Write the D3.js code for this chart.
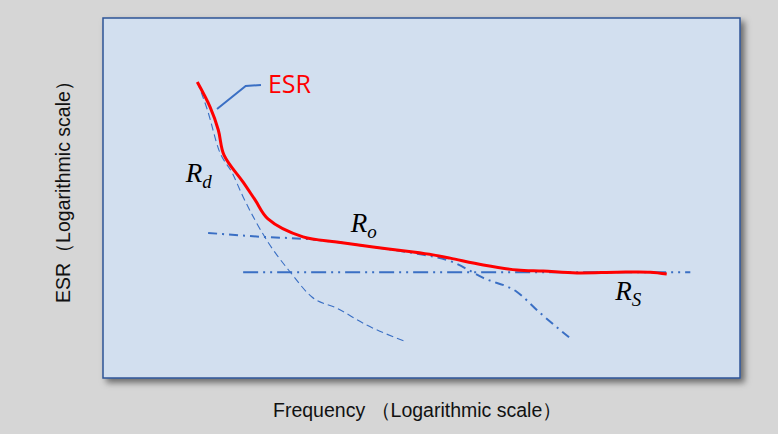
<!DOCTYPE html>
<html>
<head>
<meta charset="utf-8">
<script src="https://cdn.jsdelivr.net/npm/d3@7"></script>
<style>
  html, body { margin: 0; padding: 0; background: #d6d6d6; }
  svg { display: block; }
</style>
</head>
<body>
<svg id="chart"></svg>
<script>
// all values in abstract log units (0..100 on each axis)
var esrX = [14.8, 16.8, 18.1, 19.0, 22.0, 23.9, 25.9, 31.4, 36.7, 42.4, 48.7, 51.8, 54.5, 59.7, 65.0, 69.1, 74.4, 80.7, 85.9, 88.5];
var esrY = [82.2, 75.3, 68.9, 61.9, 54.4, 49.4, 44.2, 39.2, 37.8, 36.4, 35.0, 34.2, 33.3, 31.4, 30.0, 29.7, 29.2, 29.4, 29.4, 28.9];

var rdX = [14.8, 16.4, 18.2, 20.3, 22.0, 25.7, 29.4, 32.8, 36.7, 41.4, 47.7];
var rdY = [82.2, 74.4, 63.3, 56.9, 50.3, 38.3, 29.4, 22.5, 19.4, 14.7, 10.0];

var roX = [16.5, 25.1, 32.0, 43.5, 48.7, 54.9, 59.7, 65.0, 68.6, 73.3];
var roY = [40.3, 39.2, 38.6, 36.1, 34.7, 32.2, 27.8, 23.9, 18.1, 11.1];

var rsX = [22.0, 92.2];
var rsY = [29.4, 29.4];

var xLabel = "Frequency \uFF08Logarithmic scale\uFF09";
var yLabel = "ESR\uFF08Logarithmic scale\uFF09";

var width = 778;
var height = 434;
var box = { left: 103, top: 18, right: 740, bottom: 378 };

var svg = d3.select("svg#chart")
    .attr("width", width)
    .attr("height", height);

var x = d3.scaleLinear().domain([0, 100]).range([box.left, box.right]);
var y = d3.scaleLinear().domain([0, 100]).range([box.bottom, box.top]);

var defs = svg.append("defs");
var f = defs.append("filter").attr("id", "shadow")
    .attr("x", "-5%").attr("y", "-5%").attr("width", "115%").attr("height", "115%");
f.append("feDropShadow")
    .attr("dx", 4).attr("dy", 4).attr("stdDeviation", 3)
    .attr("flood-color", "#000").attr("flood-opacity", 0.5);

// plot area
svg.append("rect")
    .attr("x", box.left)
    .attr("y", box.top)
    .attr("width", box.right - box.left)
    .attr("height", box.bottom - box.top)
    .attr("fill", "#d2dfef")
    .attr("stroke", "#2f5597")
    .attr("stroke-width", 1.5)
    .attr("filter", "url(#shadow)");

var zip = function(xs, ys) {
    return xs.map(function(v, i) { return [v, ys[i]]; });
};

var line = d3.line()
    .x(function(d) { return x(d[0]); })
    .y(function(d) { return y(d[1]); })
    .curve(d3.curveMonotoneX);

var straight = d3.line()
    .x(function(d) { return x(d[0]); })
    .y(function(d) { return y(d[1]); });

var blue = "#3a6fc4";

// Rs
svg.append("path")
    .attr("d", line(zip(rsX, rsY)))
    .attr("fill", "none")
    .attr("stroke", blue)
    .attr("stroke-width", 2)
    .attr("stroke-dasharray", "15,5,2,5,2,5");

// Ro
svg.append("path")
    .attr("d", line(zip(roX, roY)))
    .attr("fill", "none")
    .attr("stroke", blue)
    .attr("stroke-width", 2)
    .attr("stroke-dasharray", "9,5,2,5");

// Rd
svg.append("path")
    .attr("d", line(zip(rdX, rdY)))
    .attr("fill", "none")
    .attr("stroke", blue)
    .attr("stroke-width", 1.1)
    .attr("stroke-dasharray", "7,4");

// ESR
svg.append("path")
    .attr("d", straight.curve(d3.curveCatmullRom.alpha(0.5))(zip(esrX, esrY)))
    .attr("fill", "none")
    .attr("stroke", "#ff0000")
    .attr("stroke-width", 3)
    .attr("stroke-linejoin", "round");

// leader line to ESR label
svg.append("path")
    .attr("d", d3.line()
        .x(function(d) { return x(d[0]); })
        .y(function(d) { return y(d[1]); })([[17.9, 74.7], [22.4, 81.1], [24.8, 81.4]]))
    .attr("fill", "none")
    .attr("stroke", blue)
    .attr("stroke-width", 2);

svg.append("text")
    .text("ESR")
    .attr("x", x(25.9))
    .attr("y", y(79.2))
    .attr("font-family", "Open Sans")
    .attr("font-weight", 500)
    .attr("font-size", 25)
    .attr("fill", "#ff0000");

var rLabel = function(px, py, sub) {
    var t = svg.append("text")
        .attr("x", x(px))
        .attr("y", y(py))
        .attr("font-family", "Liberation Serif")
        .attr("font-style", "italic")
        .attr("font-size", 27)
        .attr("fill", "#000");
    t.append("tspan").text("R");
    t.append("tspan").text(sub)
        .attr("font-size", 19)
        .attr("dy", 6);
};
rLabel(13.0, 54.4, "d");
rLabel(38.9, 40.6, "o");
rLabel(80.4, 21.7, "S");

// axis titles
svg.append("text")
    .text(xLabel)
    .attr("x", 273)
    .attr("y", 417)
    .attr("font-family", "Liberation Sans")
    .attr("font-size", 19.5)
    .attr("fill", "#111");

svg.append("text")
    .text(yLabel)
    .attr("transform", "translate(70,303) rotate(-90)")
    .attr("font-family", "Liberation Sans")
    .attr("font-size", 19.5)
    .attr("fill", "#111");
</script>
</body>
</html>
